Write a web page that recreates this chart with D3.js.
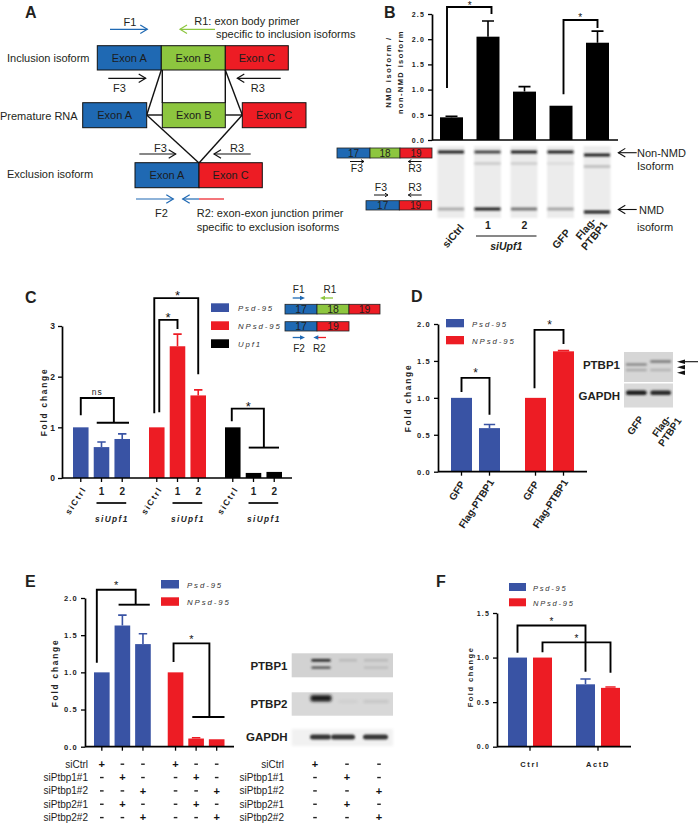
<!DOCTYPE html>
<html><head><meta charset="utf-8">
<script src="https://cdn.jsdelivr.net/npm/d3@7"></script>
<style>
body{margin:0;background:#fff;}
svg{display:block;font-family:"Liberation Sans",Arial,Helvetica,sans-serif;}
</style></head><body>
<svg id="fig" width="698" height="823"></svg>
<script>
// ================= DATA =================
// Panel B
const bCategories = ["siCtrl", "1", "2", "GFP", "Flag-PTBP1"];
const bValues = [0.45, 2.05, 0.96, 0.68, 1.93];
const bErrors = [0.02, 0.31, 0.10, 0.00, 0.23];
const bTicks = [0.0, 0.5, 1.0, 1.5, 2.0, 2.5];
const bGelUpper = [0.95, 0.80, 0.95, 0.95, 0.95];
const bGelMiddle = [0.00, 0.12, 0.10, 0.04, 0.18];
const bGelLower = [0.28, 0.95, 0.55, 0.32, 1.00];
// Panel C
const cSeries = ["Psd-95", "NPsd-95", "Upf1"];
const cConditions = ["siCtrl", "1", "2"];
const cPsd = [1.0, 0.61, 0.77];
const cNPsd = [1.0, 2.60, 1.63];
const cUpf1 = [1.0, 0.10, 0.12];
const cPsdErr = [0, 0.10, 0.10];
const cNPsdErr = [0, 0.24, 0.11];
const cUpf1Err = [0, 0, 0];
const cTicks = [0, 1, 2, 3];
// Panel D
const dSeries = ["Psd-95", "NPsd-95"];
const dConditions = ["GFP", "Flag-PTBP1"];
const dPsd = [1.0, 0.59];
const dNPsd = [1.0, 1.63];
const dPsdErr = [0, 0.05];
const dNPsdErr = [0, 0.01];
const dTicks = [0.0, 0.5, 1.0, 1.5, 2.0];
const dBlotLanes = ["GFP", "Flag-PTBP1"];
const dBlotPTBP1Upper = [0.0, 0.55];
const dBlotPTBP1Mid = [0.45, 0.0];
const dBlotPTBP1Low = [0.25, 0.2];
const dBlotGAPDH = [0.95, 0.9];
// Panel E
const eSeries = ["Psd-95", "NPsd-95"];
const eConditions = ["ctrl", "kd1", "kd2"];
const ePsd = [1.0, 1.63, 1.38];
const eNPsd = [1.0, 0.11, 0.10];
const ePsdErr = [0, 0.14, 0.14];
const eNPsdErr = [0, 0.01, 0];
const eTicks = [0.0, 0.5, 1.0, 1.5, 2.0];
const eRowLabels = ["siCtrl", "siPtbp1#1", "siPtbp1#2", "siPtbp2#1", "siPtbp2#2"];
const eMatrix = [["+", "-", "-"], ["-", "+", "-"], ["-", "-", "+"], ["-", "+", "-"], ["-", "-", "+"]];
const eBlotPTBP1a = [0.9, 0.12, 0.12];
const eBlotPTBP1b = [0.7, 0.0, 0.12];
const eBlotPTBP2 = [0.95, 0.05, 0.1];
const eBlotGAPDH = [0.85, 0.85, 0.85];
// Panel F
const fGroups = ["Ctrl", "ActD"];
const fSeries = ["Psd-95", "NPsd-95"];
const fPsd = [1.0, 0.70];
const fNPsd = [1.0, 0.66];
const fPsdErr = [0, 0.06];
const fNPsdErr = [0, 0.01];
const fTicks = [0.0, 0.5, 1.0, 1.5];

// ================= STYLE =================
const BLUE = "#3953a4", RED = "#ed1c24", BLACK = "#000";
const EX_BLUE = "#1f69b3", EX_GREEN = "#8dc63f", EX_RED = "#ed1c24";
const TXT = "#231f20";
const svg = d3.select("#fig");
const defs = svg.append("defs");
defs.append("filter").attr("id", "blur").attr("x", "-20%").attr("y", "-200%").attr("width", "140%").attr("height", "500%")
  .append("feGaussianBlur").attr("stdDeviation", 0.9);
defs.append("filter").attr("id", "blur2").attr("x", "-20%").attr("y", "-50%").attr("width", "140%").attr("height", "200%")
  .append("feGaussianBlur").attr("stdDeviation", 1.4);

function letter(t, x, y) {
  svg.append("text").attr("x", x).attr("y", y).attr("font-size", 16).attr("font-weight", "bold").attr("fill", TXT).text(t);
}
function txt(g, t, x, y, o = {}) {
  const e = g.append("text").attr("x", x).attr("y", y).attr("font-size", o.size || 11).attr("fill", o.fill || TXT)
    .attr("text-anchor", o.anchor || "start").text(t);
  if (o.bold) e.attr("font-weight", "bold");
  if (o.italic) e.attr("font-style", "italic");
  if (o.ls) e.attr("letter-spacing", o.ls);
  if (o.rot !== undefined) e.attr("transform", `rotate(${o.rot},${x},${y})`);
  return e;
}
function arrowH(g, x1, x2, y, color, head = 7, hh = 4.3, sw = 1.2) {
  g.append("line").attr("x1", x1).attr("x2", x2).attr("y1", y).attr("y2", y).attr("stroke", color).attr("stroke-width", sw);
  const d = Math.sign(x2 - x1);
  g.append("path").attr("d", `M${x2 - d * head},${y - hh}L${x2},${y}L${x2 - d * head},${y + hh}`)
    .attr("fill", "none").attr("stroke", color).attr("stroke-width", sw);
}
function filledArrow(g, x1, x2, y, color, headColor) {
  const d = Math.sign(x2 - x1);
  g.append("line").attr("x1", x1).attr("x2", x2 - d * 3).attr("y1", y).attr("y2", y).attr("stroke", color).attr("stroke-width", 1.3);
  g.append("path").attr("d", `M${x2 - d * 5},${y - 2.3}L${x2},${y}L${x2 - d * 5},${y + 2.3}Z`).attr("fill", headColor || color);
}
function yAxis(g, y, x, ticks, fmt, o = {}) {
  const a = g.append("g").attr("transform", `translate(${x},0)`)
    .call(d3.axisLeft(y).tickValues(ticks).tickFormat(fmt).tickSize(4).tickSizeOuter(0).tickPadding(3));
  a.select(".domain").attr("stroke", BLACK).attr("stroke-width", 1.7);
  a.selectAll(".tick line").attr("stroke", BLACK).attr("stroke-width", 1.3);
  a.selectAll(".tick text").attr("font-family", null).attr("font-size", o.size || 7.5).attr("font-weight", "bold")
    .attr("letter-spacing", o.ls === undefined ? 1 : o.ls).attr("fill", "#222");
  return a;
}
function xBase(g, x0, x1, y, tickXs) {
  g.append("line").attr("x1", x0).attr("x2", x1).attr("y1", y).attr("y2", y).attr("stroke", BLACK).attr("stroke-width", 1.7);
  g.selectAll("line.xt").data(tickXs).join("line").attr("class", "xt")
    .attr("x1", d => d).attr("x2", d => d).attr("y1", y).attr("y2", y + 4).attr("stroke", BLACK).attr("stroke-width", 1.3);
}
function bars(g, outer, inner, y, value, err, color) {
  const items = [];
  outer.domain().forEach((o, oi) => inner.domain().forEach((c, ci) => {
    items.push({ x: outer(o) + inner(c), w: inner.bandwidth(), v: value(oi, ci), e: err(oi, ci), col: color(oi, ci) });
  }));
  g.selectAll("rect.bar").data(items).join("rect").attr("class", "bar")
    .attr("x", d => d.x).attr("width", d => d.w).attr("y", d => y(d.v)).attr("height", d => y(0) - y(d.v)).attr("fill", d => d.col);
  g.selectAll("path.err").data(items.filter(d => d.e > 0)).join("path").attr("class", "err")
    .attr("d", d => { const cx = d.x + d.w / 2, w = d.w * 0.27, t = y(d.v + d.e); return `M${cx},${y(d.v)}V${t}M${cx - w},${t}H${cx + w}`; })
    .attr("stroke", d => d.col).attr("stroke-width", 1.6).attr("fill", "none");
  return items;
}
function bracket(g, pts) {
  g.append("path").attr("d", d3.line()(pts)).attr("fill", "none").attr("stroke", BLACK).attr("stroke-width", 1.9);
}
function star(g, x, y, s = 12) { txt(g, "*", x, y, { size: s, anchor: "middle", fill: "#111" }); }
function legend(g, names, colors, x, y0, step, o = {}) {
  names.forEach((n, i) => {
    g.append("rect").attr("x", x).attr("y", y0 + i * step).attr("width", o.w || 18).attr("height", o.h || 8.5).attr("fill", colors[i]);
    txt(g, n, x + (o.w || 18) + (o.gap || 8), y0 + i * step + 7.5, { size: o.size || 7.5, italic: true, ls: o.ls || 1.6, fill: "#333" });
  });
}
function ylabel(g, t, x, yc, o = {}) {
  txt(g, t, x, yc, { size: o.size || 8, bold: true, ls: o.ls || 1.6, anchor: "middle", rot: -90, fill: "#222" });
}
const gray = d => d3.interpolateRgb("#e6e6e6", "#0d0d0d")(d);

// ================= PANEL A =================
const gA = svg.append("g");
letter("A", 25, 18);
function exon(x0, x1, y0, y1, name, col) {
  gA.append("rect").attr("x", x0).attr("y", y0).attr("width", x1 - x0).attr("height", y1 - y0).attr("fill", col).attr("stroke", "#111").attr("stroke-width", 1);
  txt(gA, name, (x0 + x1) / 2, (y0 + y1) / 2 + 4, { anchor: "middle", size: 11, fill: "#1c1c1c" });
}
[[161.3, 70, 146.7, 115], [162.3, 70, 162.3, 103], [225.3, 70, 225.3, 103], [225.3, 70, 242.3, 115],
 [146.7, 115, 162.3, 115], [225.3, 115, 242.3, 115], [146.7, 115, 199, 163], [242.3, 115, 199, 163]]
  .forEach(l => gA.append("line").attr("x1", l[0]).attr("y1", l[1]).attr("x2", l[2]).attr("y2", l[3]).attr("stroke", "#111").attr("stroke-width", 1.4));
exon(97.3, 161.3, 45.7, 70, "Exon A", EX_BLUE);
exon(161.3, 225.3, 45.7, 70, "Exon B", EX_GREEN);
exon(225.3, 288.3, 45.7, 70, "Exon C", EX_RED);
exon(82.7, 146.7, 102.7, 127.7, "Exon A", EX_BLUE);
exon(162.3, 225.3, 102.7, 127.7, "Exon B", EX_GREEN);
exon(242.3, 306, 102.7, 127.7, "Exon C", EX_RED);
exon(135, 199, 162.7, 187.7, "Exon A", EX_BLUE);
exon(199, 262.3, 162.7, 187.7, "Exon C", EX_RED);
txt(gA, "Inclusion isoform", 7, 62);
txt(gA, "Premature RNA", 0, 119.5);
txt(gA, "Exclusion isoform", 7, 178);
arrowH(gA, 110, 147.3, 29.3, EX_BLUE);
txt(gA, "F1", 130, 26, { anchor: "middle" });
arrowH(gA, 215, 180, 29.3, EX_GREEN);
txt(gA, "R1: exon body primer", 194.3, 25);
txt(gA, "specific to inclusion isoforms", 216, 38);
arrowH(gA, 108.3, 145.7, 78.3, "#111");
txt(gA, "F3", 113, 92);
arrowH(gA, 280.7, 237.3, 78.3, "#111");
txt(gA, "R3", 250.7, 92);
arrowH(gA, 139.3, 175.7, 154, "#111");
txt(gA, "F3", 154, 151.7);
arrowH(gA, 250.7, 214, 154, "#111");
txt(gA, "R3", 230, 151.7);
arrowH(gA, 136, 173.3, 199, EX_BLUE);
txt(gA, "F2", 161.5, 217, { anchor: "middle" });
gA.append("line").attr("x1", 224).attr("x2", 199).attr("y1", 199).attr("y2", 199).attr("stroke", EX_RED).attr("stroke-width", 1.2);
arrowH(gA, 199, 182.7, 199, EX_BLUE);
txt(gA, "R2: exon-exon junction primer", 196.7, 217);
txt(gA, "specific  to exclusion isoforms", 196.7, 230.5);

// ================= PANEL B =================
const gB = svg.append("g");
letter("B", 384, 18);
const yB = d3.scaleLinear().domain([0, 2.5]).range([140, 14]);
const xB = d3.scaleBand().domain(bCategories).range([440, 609]).paddingInner(0.37).paddingOuter(0);
bCategories.forEach((c, i) => {
  gB.append("rect").attr("x", xB(c)).attr("width", xB.bandwidth()).attr("y", yB(bValues[i])).attr("height", yB(0) - yB(bValues[i])).attr("fill", BLACK);
  if (bErrors[i] > 0) {
    const cx = xB(c) + xB.bandwidth() / 2, t = yB(bValues[i] + bErrors[i]);
    gB.append("path").attr("d", `M${cx},${yB(bValues[i])}V${t}M${cx - 6},${t}H${cx + 6}`).attr("stroke", BLACK).attr("stroke-width", 1.6).attr("fill", "none");
  }
});
yAxis(gB, yB, 432, bTicks, d3.format(".1f"), { size: 7, ls: 1.2 });
gB.append("line").attr("x1", 432).attr("x2", 618).attr("y1", 140).attr("y2", 140).attr("stroke", BLACK).attr("stroke-width", 1.7);
txt(gB, "NMD isoform /", 391, 72, { size: 7.5, bold: true, ls: 1.6, anchor: "middle", rot: -90, fill: "#222" });
txt(gB, "non-NMD isoform", 403, 72, { size: 7.5, bold: true, ls: 1.4, anchor: "middle", rot: -90, fill: "#222" });
{
  const cx = c => xB(c) + xB.bandwidth() / 2;
  bracket(gB, [[cx("siCtrl") - 4.5, yB(1.03)], [cx("siCtrl") - 4.5, yB(2.64)], [cx("1") + 3.5, yB(2.64)], [cx("1") + 3.5, yB(2.5)]]);
  star(gB, (cx("siCtrl") + cx("1")) / 2, yB(2.64) + 2, 10);
  bracket(gB, [[cx("GFP") + 2.5, yB(0.91)], [cx("GFP") + 2.5, yB(2.38)], [cx("Flag-PTBP1"), yB(2.38)], [cx("Flag-PTBP1"), yB(2.22)]]);
  star(gB, (cx("GFP") + cx("Flag-PTBP1")) / 2 + 1, yB(2.38) + 1, 10);
}
bCategories.forEach((c, i) => {
  const x0 = xB(c) - 2.5, w = xB.bandwidth() + 4, sh = (c === "Flag-PTBP1") ? 3 : 0;
  gB.append("rect").attr("x", x0).attr("y", 146).attr("width", w).attr("height", 72).attr("fill", "#ececec").attr("filter", "url(#blur)");
  [[bGelUpper[i], 152], [bGelMiddle[i], 163.5], [bGelLower[i], 209]].forEach(([v, yy]) => {
    if (v > 0) gB.append("rect").attr("x", x0 + 0.5).attr("y", yy + sh - 1.4).attr("width", w - 1).attr("height", 2.8).attr("fill", gray(v)).attr("filter", "url(#blur)");
  });
});
function boxRow(g, segs, y0, y1, size = 10) {
  segs.forEach(s => {
    g.append("rect").attr("x", s[0]).attr("y", y0).attr("width", s[1] - s[0]).attr("height", y1 - y0).attr("fill", s[3]).attr("stroke", "#222").attr("stroke-width", 0.8);
    txt(g, s[2], (s[0] + s[1]) / 2, (y0 + y1) / 2 + 3.7, { anchor: "middle", size, fill: "#222" });
  });
}
boxRow(gB, [[337, 370, "17", EX_BLUE], [370, 400, "18", EX_GREEN], [400, 432, "19", EX_RED]], 148, 158);
arrowH(gB, 350, 364, 161.5, "#111", 3, 1.8, 1);
txt(gB, "F3", 357, 172, { anchor: "middle", size: 10.5 });
arrowH(gB, 421.7, 408.3, 161.5, "#111", 3, 1.8, 1);
txt(gB, "R3", 415, 172, { anchor: "middle", size: 10.5 });
txt(gB, "F3", 381, 191, { anchor: "middle", size: 10.5 });
arrowH(gB, 374, 388, 195, "#111", 3, 1.8, 1);
txt(gB, "R3", 415, 191, { anchor: "middle", size: 10.5 });
arrowH(gB, 421.7, 408.3, 195, "#111", 3, 1.8, 1);
boxRow(gB, [[366, 399.3, "17", EX_BLUE], [399.3, 431.7, "19", EX_RED]], 200.7, 210);
arrowH(gB, 636.7, 618.3, 152.7, "#111", 7, 4.3, 1.1);
txt(gB, "Non-NMD", 637, 157);
txt(gB, "Isoform", 637, 170);
arrowH(gB, 636.7, 618.3, 209.5, "#111", 7, 4.3, 1.1);
txt(gB, "NMD", 639, 214);
txt(gB, "isoform", 637, 231);
{
  const cx = c => xB(c) + xB.bandwidth() / 2;
  txt(gB, "siCtrl", cx("siCtrl") + 13, 228, { bold: true, size: 10.5, anchor: "end", rot: -50 });
  txt(gB, "1", cx("1"), 229, { bold: true, size: 10.5, anchor: "middle" });
  txt(gB, "2", cx("2"), 229, { bold: true, size: 10.5, anchor: "middle" });
  gB.append("line").attr("x1", cx("1") - 12).attr("x2", cx("2") + 12).attr("y1", 236).attr("y2", 236).attr("stroke", "#111").attr("stroke-width", 1);
  txt(gB, "siUpf1", (cx("1") + cx("2")) / 2, 250, { bold: true, italic: true, size: 10.5, anchor: "middle" });
  txt(gB, "GFP", cx("GFP") + 10, 233, { bold: true, size: 10.5, anchor: "end", rot: -50 });
  const gl = gB.append("g").attr("transform", `translate(${cx("Flag-PTBP1") - 9},${231}) rotate(-50)`);
  txt(gl, "Flag-", 0, 0, { bold: true, size: 10.5, anchor: "middle" });
  txt(gl, "PTBP1", 0, 11, { bold: true, size: 10.5, anchor: "middle" });
}

// ================= PANEL C =================
const gC = svg.append("g");
letter("C", 25, 303);
const yC = d3.scaleLinear().domain([0, 3]).range([478, 326]);
const xCg = d3.scaleBand().domain(cSeries).range([73, 282]).paddingInner(0.25).paddingOuter(0);
const xCi = d3.scaleBand().domain(cConditions).range([0, xCg.bandwidth()]).paddingInner(0.25).paddingOuter(0);
const cVals = [cPsd, cNPsd, cUpf1], cErrs = [cPsdErr, cNPsdErr, cUpf1Err], cCols = [BLUE, RED, BLACK];
const cItems = bars(gC, xCg, xCi, yC, (o, i) => cVals[o][i], (o, i) => cErrs[o][i], (o, i) => cCols[o]);
yAxis(gC, yC, 62, cTicks, d3.format("d"), { size: 8.5, ls: 0 });
const cxC = (s, c) => xCg(s) + xCi(c) + xCi.bandwidth() / 2;
xBase(gC, 62, 292, 478, cItems.map(d => d.x + d.w / 2));
ylabel(gC, "Fold change", 47, 402, { size: 8.3, ls: 1.8 });
{
  const l = cxC("Psd-95", "siCtrl"), r = (cxC("Psd-95", "1") + cxC("Psd-95", "2")) / 2 + 2;
  bracket(gC, [[l, yC(1.24)], [l, yC(1.58)], [r, yC(1.58)], [r, yC(1.09)]]);
  bracket(gC, [[xCg("Psd-95") + xCi("1") + 3, yC(1.09)], [xCg("Psd-95") + xCi("2") + xCi.bandwidth() - 1, yC(1.09)]]);
  txt(gC, "ns", (l + r) / 2, 395, { size: 8.5, anchor: "middle", ls: 1, fill: "#222" });
  const n0 = cxC("NPsd-95", "siCtrl"), n1 = cxC("NPsd-95", "1"), n2 = cxC("NPsd-95", "2");
  bracket(gC, [[n0 - 2.5, yC(1.28)], [n0 - 2.5, yC(3.55)], [n2, yC(3.55)], [n2, yC(2.05)]]);
  star(gC, (n0 + n2) / 2, yC(3.55) + 2, 13);
  bracket(gC, [[n0 + 2.5, yC(1.3)], [n0 + 2.5, yC(3.12)], [n1, yC(3.12)], [n1, yC(2.94)]]);
  star(gC, (n0 + n1) / 2 + 1, yC(3.12) + 2, 13);
  const u0 = cxC("Upf1", "siCtrl"), u1 = cxC("Upf1", "1"), u2 = cxC("Upf1", "2");
  bracket(gC, [[u0 - 1, yC(1.12)], [u0 - 1, yC(1.37)], [(u1 + u2) / 2, yC(1.37)], [(u1 + u2) / 2, yC(0.6)]]);
  bracket(gC, [[xCg("Upf1") + xCi("1") + 3, yC(0.6)], [xCg("Upf1") + xCi("2") + xCi.bandwidth() - 3, yC(0.6)]]);
  star(gC, (u0 + (u1 + u2) / 2) / 2, yC(1.37) + 2, 13);
}
legend(gC, cSeries, cCols, 211, 303.3, 18, { w: 18, h: 8.7, gap: 9, size: 7.8, ls: 1.9 });
boxRow(gC, [[285, 317, "17", EX_BLUE], [317, 349, "18", EX_GREEN], [349, 380, "19", EX_RED]], 304.3, 314, 10.5);
boxRow(gC, [[285, 317, "17", EX_BLUE], [317, 349, "19", EX_RED]], 321.7, 331, 10.5);
txt(gC, "F1", 298.7, 293.3, { anchor: "middle", size: 10 });
txt(gC, "R1", 330, 293.3, { anchor: "middle", size: 10 });
filledArrow(gC, 292.7, 305, 298, EX_BLUE);
filledArrow(gC, 333, 320, 298, EX_GREEN);
filledArrow(gC, 292.7, 305, 337.5, EX_BLUE);
filledArrow(gC, 326, 313.3, 337.5, EX_RED, EX_BLUE);
txt(gC, "F2", 299, 351.7, { anchor: "middle", size: 10 });
txt(gC, "R2", 319.3, 351.7, { anchor: "middle", size: 10 });
cSeries.forEach(s => {
  const x0 = cxC(s, "siCtrl"), x1 = cxC(s, "1"), x2 = cxC(s, "2");
  txt(gC, "siCtrl", x0 + 6, 489, { bold: true, size: 8.5, ls: 1.6, anchor: "end", rot: -57, fill: "#222" });
  txt(gC, "1", x1, 495, { bold: true, size: 10, anchor: "middle", fill: "#222" });
  txt(gC, "2", x2, 495, { bold: true, size: 10, anchor: "middle", fill: "#222" });
  gC.append("line").attr("x1", x1 - 5).attr("x2", x2 + 4).attr("y1", 503).attr("y2", 503).attr("stroke", "#111").attr("stroke-width", 1.8);
  txt(gC, "siUpf1", (x1 + x2) / 2, 521.5, { bold: true, italic: true, size: 8.3, ls: 1.4, anchor: "middle", fill: "#222" });
});

// ================= PANEL D =================
const gD = svg.append("g");
letter("D", 411, 302);
const yD = d3.scaleLinear().domain([0, 2]).range([471.7, 324]);
const xDg = d3.scaleBand().domain(dSeries).range([451, 574]).paddingInner(0.338).paddingOuter(0);
const xDi = d3.scaleBand().domain(dConditions).range([0, xDg.bandwidth()]).paddingInner(0.25).paddingOuter(0);
const dVals = [dPsd, dNPsd], dErrs = [dPsdErr, dNPsdErr], dCols = [BLUE, RED];
const dItems = bars(gD, xDg, xDi, yD, (o, i) => dVals[o][i], (o, i) => dErrs[o][i], (o, i) => dCols[o]);
yAxis(gD, yD, 438, dTicks, d3.format(".1f"), { size: 7.5, ls: 1.2 });
xBase(gD, 438, 587, 471.7, dItems.map(d => d.x + d.w / 2));
ylabel(gD, "Fold change", 411, 398, { size: 8.3, ls: 1.8 });
{
  const cx = (s, c) => xDg(s) + xDi(c) + xDi.bandwidth() / 2;
  const p0 = cx("Psd-95", "GFP"), p1 = cx("Psd-95", "Flag-PTBP1");
  bracket(gD, [[p0, yD(1.08)], [p0, yD(1.27)], [p1, yD(1.27)], [p1, yD(0.77)]]);
  star(gD, (p0 + p1) / 2, yD(1.27) - 1, 12);
  const n0 = cx("NPsd-95", "GFP"), n1 = cx("NPsd-95", "Flag-PTBP1");
  bracket(gD, [[n0 - 1, yD(1.13)], [n0 - 1, yD(1.92)], [n1, yD(1.92)], [n1, yD(1.73)]]);
  star(gD, (n0 + n1) / 2, yD(1.92) - 1, 12);
  dSeries.forEach(s => {
    txt(gD, "GFP", cx(s, "GFP") + 4, 484, { bold: true, size: 10, anchor: "end", rot: -57, fill: "#222" });
    txt(gD, "Flag-PTBP1", cx(s, "Flag-PTBP1") + 5, 482, { bold: true, size: 10, anchor: "end", rot: -57, fill: "#222" });
  });
}
legend(gD, dSeries, dCols, 446, 319, 17, { w: 18, h: 8.3, gap: 8, size: 7.8, ls: 1.9 });
gD.append("rect").attr("x", 624).attr("y", 352).attr("width", 49).attr("height", 30).attr("fill", "#d6d6d6");
gD.append("rect").attr("x", 624).attr("y", 383.5).attr("width", 49).attr("height", 24).attr("fill", "#dadada");
const dLaneX = d3.scaleBand().domain(dBlotLanes).range([626, 671]).paddingInner(0.15);
dBlotLanes.forEach((l, i) => {
  const x = dLaneX(l), w = dLaneX.bandwidth();
  [[dBlotPTBP1Upper[i], 361.5], [dBlotPTBP1Mid[i], 364.5], [dBlotPTBP1Low[i], 370]].forEach(([v, yy]) => {
    if (v > 0) gD.append("rect").attr("x", x).attr("y", yy - 1.2).attr("width", w).attr("height", 2.4).attr("fill", d3.interpolateRgb("#d6d6d6", "#222")(v)).attr("filter", "url(#blur)");
  });
  gD.append("rect").attr("x", x).attr("y", 390.5).attr("width", w).attr("height", 4.5).attr("rx", 2).attr("fill", d3.interpolateRgb("#dadada", "#111")(dBlotGAPDH[i])).attr("filter", "url(#blur)");
});
txt(gD, "PTBP1", 620, 368.5, { bold: true, size: 11.5, anchor: "end" });
txt(gD, "GAPDH", 620, 399.5, { bold: true, size: 11.5, anchor: "end" });
gD.append("line").attr("x1", 680).attr("x2", 698).attr("y1", 361.7).attr("y2", 361.7).attr("stroke", "#111").attr("stroke-width", 1.1);
[361.7, 367.2, 372.7].forEach(yy => gD.append("path").attr("d", `M677,${yy}L685,${yy - 2.3}L685,${yy + 2.3}Z`).attr("fill", "#111"));
txt(gD, "GFP", 644, 419, { bold: true, size: 10, anchor: "end", rot: -55 });
{
  const gl = gD.append("g").attr("transform", `translate(664,428) rotate(-55)`);
  txt(gl, "Flag-", 0, 0, { bold: true, size: 10, anchor: "middle" });
  txt(gl, "PTBP1", 0, 10.5, { bold: true, size: 10, anchor: "middle" });
}

// ================= PANEL E =================
const gE = svg.append("g");
letter("E", 25, 587);
const yE = d3.scaleLinear().domain([0, 2]).range([746.7, 598]);
const xEg = d3.scaleBand().domain(eSeries).range([94, 224.5]).paddingInner(0.23).paddingOuter(0);
const xEi = d3.scaleBand().domain(eConditions).range([0, xEg.bandwidth()]).paddingInner(0.24).paddingOuter(0);
const eVals = [ePsd, eNPsd], eErrs = [ePsdErr, eNPsdErr], eCols = [BLUE, RED];
const eItems = bars(gE, xEg, xEi, yE, (o, i) => eVals[o][i], (o, i) => eErrs[o][i], (o, i) => eCols[o]);
yAxis(gE, yE, 85, eTicks, d3.format(".1f"), { size: 7.5, ls: 1.2 });
xBase(gE, 85, 234, 746.7, eItems.map(d => d.x + d.w / 2));
ylabel(gE, "Fold change", 58, 673, { size: 8.3, ls: 1.8 });
function pm(g, s, x, y) {
  if (s === "+") txt(g, "+", x, y + 0.5, { size: 11, anchor: "middle", fill: "#111", bold: true });
  else g.append("line").attr("x1", x - 1.8).attr("x2", x + 1.8).attr("y1", y - 3.3).attr("y2", y - 3.3).attr("stroke", "#222").attr("stroke-width", 1.4);
}
{
  const cx = (s, c) => xEg(s) + xEi(c) + xEi.bandwidth() / 2;
  const p0 = cx("Psd-95", "ctrl") - 5, pr = (cx("Psd-95", "kd1") + cx("Psd-95", "kd2")) / 2 + 3;
  bracket(gE, [[p0, yE(1.13)], [p0, yE(2.11)], [pr, yE(2.11)], [pr, yE(1.91)]]);
  bracket(gE, [[xEg("Psd-95") + xEi("kd1") + 4, yE(1.91)], [xEg("Psd-95") + xEi("kd2") + xEi.bandwidth() - 1, yE(1.91)]]);
  star(gE, (p0 + pr) / 2, yE(2.11) - 0.5, 11);
  const n0 = cx("NPsd-95", "ctrl") - 2, nr = (cx("NPsd-95", "kd1") + cx("NPsd-95", "kd2")) / 2 + 3;
  bracket(gE, [[n0, yE(1.14)], [n0, yE(1.39)], [nr, yE(1.39)], [nr, yE(0.4)]]);
  bracket(gE, [[xEg("NPsd-95") + xEi("kd1") + 4, yE(0.4)], [xEg("NPsd-95") + xEi("kd2") + xEi.bandwidth(), yE(0.4)]]);
  star(gE, (n0 + nr) / 2, yE(1.39) - 0.5, 11);
  eRowLabels.forEach((r, ri) => {
    const yy = 767.5 + ri * 13.35;
    txt(gE, r, 88, yy, { size: 10, anchor: "end", fill: "#222" });
    eSeries.forEach(s => eConditions.forEach((c, ci) => pm(gE, eMatrix[ri][ci], cx(s, c), yy)));
    txt(gE, r, 284, yy, { size: 10, anchor: "end", fill: "#222" });
  });
}
legend(gE, eSeries, eCols, 161, 580, 17.3, { w: 18, h: 8.5, gap: 8, size: 7.8, ls: 1.9 });
{
  gE.append("rect").attr("x", 291.7).attr("y", 653.3).attr("width", 101.3).attr("height", 24).attr("fill", "#d2d2d2");
  gE.append("rect").attr("x", 291.7).attr("y", 692.3).attr("width", 101.3).attr("height", 23.4).attr("fill", "#d8d8d8");
  gE.append("rect").attr("x", 291.7).attr("y", 729).attr("width", 101.3).attr("height", 17).attr("fill", "#f1f1f1").attr("filter", "url(#blur2)");
  const wid = [19, 18, 24];
  eConditions.forEach((c, i) => {
    const x = [321, 348, 376][i] - wid[i] / 2;
    gE.append("rect").attr("x", x).attr("y", 659).attr("width", wid[i]).attr("height", 2.6).attr("fill", d3.interpolateRgb("#d2d2d2", "#111")(eBlotPTBP1a[i])).attr("filter", "url(#blur)");
    gE.append("rect").attr("x", x).attr("y", 666.5).attr("width", wid[i]).attr("height", 2.2).attr("fill", d3.interpolateRgb("#d2d2d2", "#111")(eBlotPTBP1b[i])).attr("filter", "url(#blur)");
    gE.append("rect").attr("x", x - 1).attr("y", i === 0 ? 695 : 700).attr("width", wid[i] + 2).attr("height", i === 0 ? 6.5 : 3).attr("rx", 2).attr("fill", d3.interpolateRgb("#d8d8d8", "#111")(eBlotPTBP2[i])).attr("filter", "url(#blur2)");
    gE.append("rect").attr("x", [310, 331, 363][i]).attr("y", 734.5).attr("width", [21, 24, 25][i]).attr("height", 5).attr("rx", 2.5).attr("fill", d3.interpolateRgb("#eeeeee", "#111")(eBlotGAPDH[i])).attr("filter", "url(#blur)");
    eRowLabels.forEach((r, ri) => pm(gE, eMatrix[ri][i], [315, 347, 379][i], 767.5 + ri * 13.35));
  });
  txt(gE, "PTBP1", 287.5, 669.5, { bold: true, size: 11.5, anchor: "end" });
  txt(gE, "PTBP2", 287.5, 708, { bold: true, size: 11.5, anchor: "end" });
  txt(gE, "GAPDH", 287.5, 741, { bold: true, size: 11.5, anchor: "end" });
}

// ================= PANEL F =================
const gF = svg.append("g");
letter("F", 436, 587);
const yF = d3.scaleLinear().domain([0, 1.5]).range([746.7, 613]);
const xFg = d3.scaleBand().domain(fGroups).range([508, 620]).paddingInner(0.353).paddingOuter(0);
const xFi = d3.scaleBand().domain(fSeries).range([0, xFg.bandwidth()]).paddingInner(0.24).paddingOuter(0);
const fVals = [fPsd, fNPsd], fErrs = [fPsdErr, fNPsdErr], fCols = [BLUE, RED];
bars(gF, xFg, xFi, yF, (o, i) => fVals[i][o], (o, i) => fErrs[i][o], (o, i) => fCols[i]);
yAxis(gF, yF, 497, fTicks, d3.format(".1f"), { size: 7, ls: 1.2 });
xBase(gF, 497, 631, 746.7, fGroups.map(g => xFg(g) + xFg.bandwidth() / 2));
ylabel(gF, "Fold change", 473, 677, { size: 7.5, ls: 1.5 });
{
  const cx = (g, s) => xFg(g) + xFi(s) + xFi.bandwidth() / 2;
  const a0 = cx("Ctrl", "Psd-95"), a1 = cx("ActD", "Psd-95");
  bracket(gF, [[a0, yF(1.055)], [a0, yF(1.36)], [a1, yF(1.36)], [a1, yF(0.84)]]);
  star(gF, (a0 + a1) / 2, yF(1.36) - 0.5, 10);
  const b0 = cx("Ctrl", "NPsd-95"), b1 = cx("ActD", "NPsd-95");
  bracket(gF, [[b0, yF(1.06)], [b0, yF(1.17)], [b1, yF(1.17)], [b1, yF(0.83)]]);
  star(gF, (b0 + b1) / 2, yF(1.17) - 0.5, 10);
  fGroups.forEach(g => txt(gF, g, xFg(g) + xFg.bandwidth() / 2, 766.5, { bold: true, size: 7.5, ls: 1.6, anchor: "middle", fill: "#222" }));
}
legend(gF, fSeries, fCols, 509, 583, 15.3, { w: 17, h: 8, gap: 7, size: 7.5, ls: 1.8 });
</script></body></html>
